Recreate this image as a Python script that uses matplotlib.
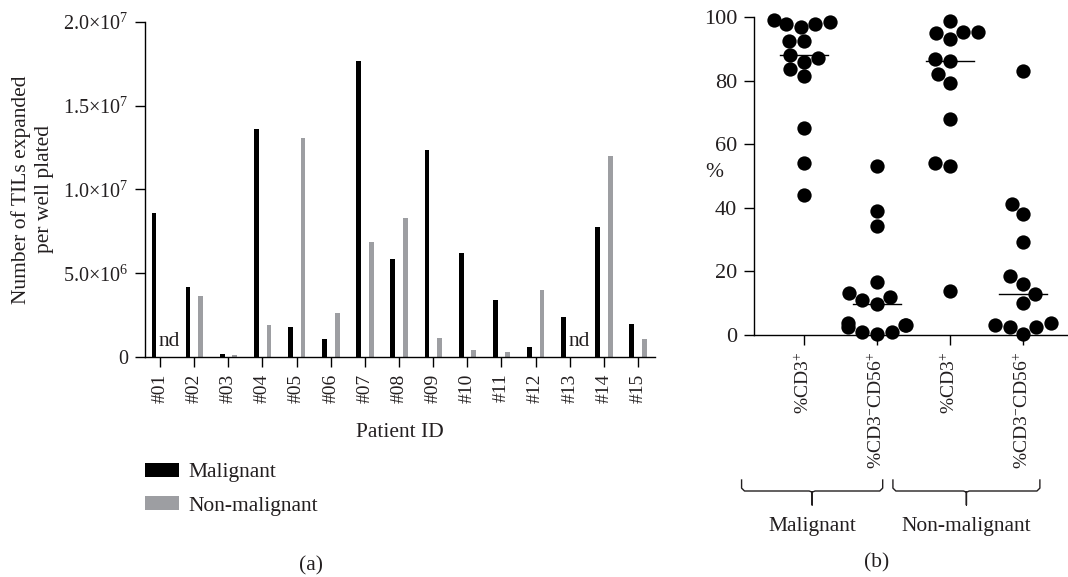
import matplotlib
matplotlib.use("Agg")
import matplotlib.pyplot as plt
import numpy as np
import pandas as pd
import seaborn as sns
from matplotlib.patches import Patch
from matplotlib.lines import Line2D
import matplotlib.transforms as mtransforms

# ---------------- data ----------------
patients = ["#01", "#02", "#03", "#04", "#05", "#06", "#07", "#08",
            "#09", "#10", "#11", "#12", "#13", "#14", "#15"]
malignant = [8.6e6, 4.15e6, 0.18e6, 13.6e6, 1.8e6, 1.05e6, 17.65e6, 5.85e6,
             12.35e6, 6.2e6, 3.43e6, 0.6e6, 2.41e6, 7.77e6, 1.99e6]
non_malignant = [0.0, 3.62e6, 0.1e6, 1.93e6, 13.1e6, 2.65e6, 6.85e6, 8.3e6,
                 1.13e6, 0.42e6, 0.32e6, 3.97e6, 0.0, 11.98e6, 1.08e6]
not_done = ["#01", "#13"]
yticks_a = [0, 5e6, 1e7, 1.5e7, 2e7]
ytick_labels_a = ["0", "5.0×10$^{6}$", "1.0×10$^{7}$", "1.5×10$^{7}$", "2.0×10$^{7}$"]

mal_cd3 = [97.9, 98.3, 97.0, 97.9, 99.2, 92.6, 92.6, 88.0, 87.0, 85.9,
           83.5, 81.4, 65.1, 54.2, 44.0]
mal_nk = [53.3, 38.9, 34.2, 16.6, 13.2, 12.0, 11.0, 9.8, 3.8, 3.3, 3.0,
          2.4, 1.0, 0.8, 0.3]
non_cd3 = [98.6, 95.4, 95.2, 94.9, 93.1, 86.7, 86.2, 82.0, 79.4, 67.9,
           54.0, 53.1, 13.7]
non_nk = [83.1, 41.2, 38.2, 29.3, 18.5, 16.1, 12.9, 10.0, 3.7, 3.3, 2.4,
          2.4, 0.3]
groups_b = ["%CD3$^{+}$", "%CD3$^{-}$CD56$^{+}$",
            "%CD3$^{+}$", "%CD3$^{-}$CD56$^{+}$"]
group_names = ["Malignant", "Non-malignant"]

# ---------------- style ----------------
plt.rcParams["font.family"] = ["Liberation Serif", "DejaVu Serif"]
plt.rcParams["mathtext.fontset"] = "custom"
plt.rcParams["mathtext.rm"] = "Liberation Serif"
plt.rcParams["mathtext.it"] = "Liberation Serif:italic"
plt.rcParams["mathtext.bf"] = "Liberation Serif:bold"
plt.rcParams["axes.linewidth"] = 1.0
FS_XT = 14      # rotated category tick labels
FS_YT = 14.5    # numeric tick labels (a)
FS_YTB = 16     # numeric tick labels (b)
FS = 15.5       # other text
TXT = "#231f20"
BLACK = "#000000"
GREY = "#9d9ea2"

fig = plt.figure(figsize=(10.68, 5.77), dpi=100)

# ---------------- panel (a) ----------------
axa = fig.add_axes([0.1358, 0.3813, 0.4775, 0.5806])
x = np.arange(len(patients))
bw = 0.14
axa.bar(x - 0.18, malignant, width=bw, color=BLACK, label="Malignant")
axa.bar(x + 0.19, non_malignant, width=bw, color=GREY, label="Non-malignant")
for p in not_done:
    i = patients.index(p)
    axa.text(i + 0.27, 0.95e6, "nd", ha="center", va="center", fontsize=FS, color=TXT)
axa.set_xlim(-0.44, 14.5)
axa.set_ylim(0, 2e7)
axa.set_yticks(yticks_a)
axa.set_yticklabels(ytick_labels_a, fontsize=FS_YT, color=TXT)
axa.set_xticks(x)
axa.set_xticklabels(patients, rotation=90, fontsize=FS_XT, color=TXT)
axa.spines["top"].set_visible(False)
axa.spines["right"].set_visible(False)
axa.tick_params(axis="both", direction="out", length=7, width=1.0, pad=5)
axa.set_xlabel("Patient ID", fontsize=FS, color=TXT, labelpad=14)
axa.set_ylabel("Number of TILs expanded\nper well plated", fontsize=FS, color=TXT,
               linespacing=1.3)
axa.yaxis.set_label_coords(-0.178, 0.5)

handles = [Patch(facecolor=BLACK, edgecolor="none"), Patch(facecolor=GREY, edgecolor="none")]
fig.legend(handles, group_names, loc="upper left", bbox_to_anchor=(0.128, 0.213),
           frameon=False, fontsize=FS, handlelength=1.55, handleheight=0.65,
           handletextpad=0.45, labelspacing=0.62, borderaxespad=0, labelcolor=TXT)
fig.text(311 / 1068, 1 - 566 / 577, "(a)", ha="center", va="center", fontsize=FS, color=TXT)

# ---------------- panel (b) ----------------
axb = fig.add_axes([0.706, 0.4194, 0.293, 0.5511])
values = [mal_cd3, mal_nk, non_cd3, non_nk]
df = pd.DataFrame({
    "group": np.repeat(np.arange(4), [len(v) for v in values]),
    "value": np.concatenate(values),
})
sns.swarmplot(data=df, x="group", y="value", ax=axb, color=BLACK, size=10.3,
              native_scale=True, linewidth=0)
for i, v in enumerate(values):
    axb.plot([i - 0.33, i + 0.33], [np.median(v)] * 2, color=BLACK, lw=1.0, zorder=5)
axb.set_xlim(-0.68, 3.6)
axb.set_ylim(0, 100)
axb.set_yticks([0, 20, 40, 60, 80, 100])
axb.set_yticklabels(["0", "20", "40", "60", "80", "100"], fontsize=FS_YTB, color=TXT)
axb.set_xticks(range(4))
axb.set_xticklabels(groups_b, rotation=90, fontsize=FS_XT, color=TXT)
axb.spines["top"].set_visible(False)
axb.spines["right"].set_visible(False)
axb.tick_params(axis="both", direction="out", length=7, width=1.0, pad=5)
axb.set_xlabel("")
axb.set_ylabel("%", rotation=0, fontsize=FS, color=TXT, va="center", ha="center")
axb.yaxis.set_label_coords(-0.128, 0.51)
for c in axb.collections:
    c.set_clip_on(False)

# brackets under groups
trans = mtransforms.blended_transform_factory(axb.transData, fig.transFigure)
def bracket(x0, x1, ytop, ymid, ystem):
    xm = (x0 + x1) / 2
    r = 0.04
    xs = [x0, x0, x0 + r, xm - r, xm, xm, xm, xm + r, x1 - r, x1, x1]
    ys = [ytop, ymid + 0.005, ymid, ymid, ymid - 0.002, ystem, ymid - 0.002, ymid, ymid, ymid + 0.005, ytop]
    axb.add_line(Line2D(xs, ys, transform=trans, color=TXT, lw=1.0, clip_on=False))
    return xm

ytop = 1 - 480 / 577
ymid = 1 - 491 / 577
ystem = 1 - 505 / 577
xm1 = bracket(-0.85, 1.08, ytop, ymid, ystem)
xm2 = bracket(1.22, 3.23, ytop, ymid, ystem)
for xm, name in zip([xm1, xm2], group_names):
    axb.text(xm, 1 - 526 / 577, name, transform=trans, ha="center", va="center",
             fontsize=FS, color=TXT)
fig.text(877 / 1068, 1 - 563 / 577, "(b)", ha="center", va="center", fontsize=FS, color=TXT)

fig.savefig("out.png", dpi=100)
